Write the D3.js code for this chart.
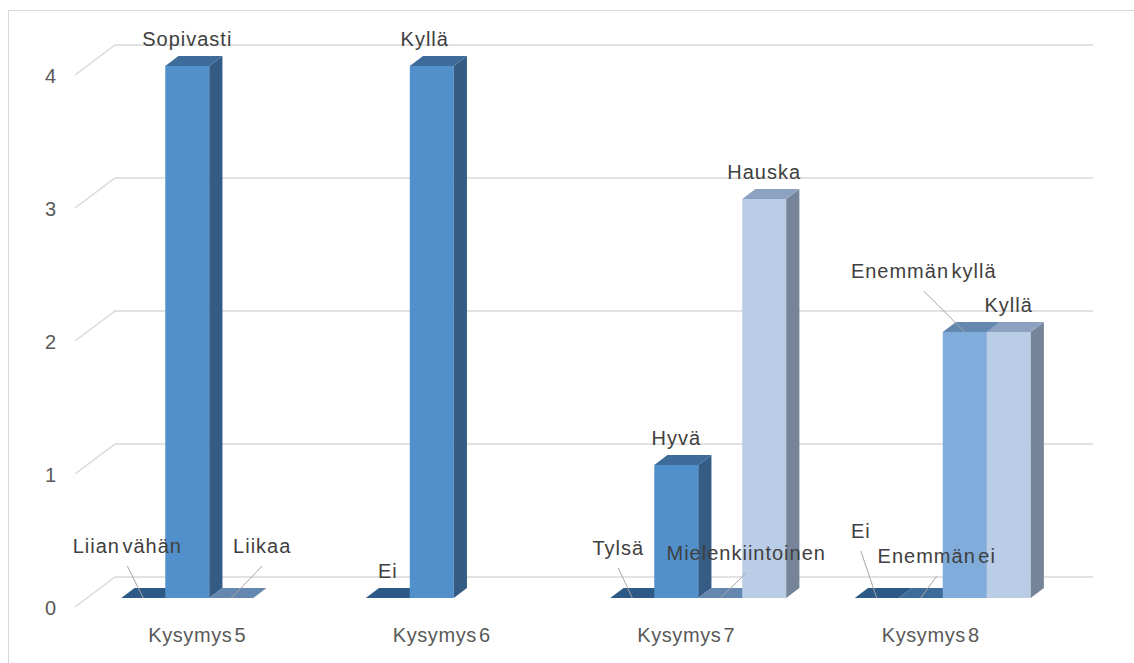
<!DOCTYPE html>
<html>
<head>
<meta charset="utf-8">
<script src="https://cdn.jsdelivr.net/npm/d3@7"></script>
<style>
  body { margin: 0; background: #fff; }
  text { font-family: "Liberation Sans", Arial, sans-serif; }
</style>
</head>
<body>
<div id="chart"></div>
<script>
// data
var categories = ["Kysymys 5", "Kysymys 6", "Kysymys 7", "Kysymys 8"];
var seriesValues = [
  [0, 0, 0, 0],
  [4, 4, 1, 0],
  [0, null, 0, 2],
  [null, null, 3, 2]
];
var seriesLabels = [
  ["Liian vähän", "Ei", "Tylsä", "Ei"],
  ["Sopivasti", "Kyllä", "Hyvä", "Enemmän ei"],
  ["Liikaa", null, "Mielenkiintoinen", "Enemmän kyllä"],
  [null, null, "Hauska", "Kyllä"]
];
var yTicks = [0, 1, 2, 3, 4];

// colours per series: front, side, top
var frontCol = ["#3b6a9b", "#5190cb", "#80acdc", "#b9cde7"];
var sideCol = ["#2a4d72", "#355c85", "#56779c", "#76849a"];
var topCol = ["#2d5986", "#3d6c9b", "#6487b0", "#8ca2c0"];

// manual label placement relative to bar top: [dx, dy, leader line]
var labelNudge = {
  "0-0": [-16, -45, true],
  "2-0": [31, -45, true],
  "1-1": [-7, -20, false],
  "0-2": [-14, -43, true],
  "2-2": [26, -38, true],
  "0-3": [-16, -60, true],
  "1-3": [16, -35, true],
  "2-3": [-41, -54, true]
};

var width = 1134, height = 663;
var depth = { dx: 40, dy: -30 };   // floor depth (oblique)
var barDepth = [0.3, 0.63];        // bars sit in this slice of the depth

var svg = d3.select("#chart").append("svg")
  .attr("width", width)
  .attr("height", height);

// outer chart frame
svg.append("rect")
  .attr("x", 8.5).attr("y", 10.5)
  .attr("width", 1200).attr("height", 700)
  .attr("fill", "#fff")
  .attr("stroke", "#d9d9d9");

var x0 = d3.scaleBand().domain(categories).range([75, 1053]);
var x1 = d3.scaleBand().domain(d3.range(4)).range([0, x0.bandwidth()])
  .paddingInner(0).paddingOuter(0.78);
var y = d3.scaleLinear().domain([0, 4]).range([607, 75]);

// gridlines: left wall diagonals + back wall
var grid = svg.append("g").attr("stroke", "#d9d9d9").attr("stroke-width", 1.5).attr("fill", "none");
yTicks.forEach(function (t) {
  grid.append("path").attr("d",
    "M75," + y(t) + "L" + (75 + depth.dx) + "," + (y(t) + depth.dy) + "H1093");
});

// y tick labels
svg.append("g").selectAll("text").data(yTicks).join("text")
  .attr("x", 56).attr("y", function (d) { return y(d) + 8; })
  .attr("text-anchor", "end")
  .attr("font-size", 20).attr("fill", "#595959")
  .text(function (d) { return d; });

// category labels
svg.append("g").selectAll("text").data(categories).join("text")
  .attr("x", function (d) { return x0(d) + x0.bandwidth() / 2; })
  .attr("y", y(0) + 35)
  .attr("text-anchor", "middle")
  .attr("font-size", 20).attr("fill", "#595959")
  .style("letter-spacing", "0.6px").style("word-spacing", "-4px")
  .text(function (d) { return d; });

// bars
var fx = depth.dx * barDepth[0], fy = depth.dy * barDepth[0];
var bdx = depth.dx * (barDepth[1] - barDepth[0]), bdy = depth.dy * (barDepth[1] - barDepth[0]);
var bars = [];
categories.forEach(function (c, ci) {
  seriesValues.forEach(function (vals, si) {
    if (vals[ci] == null) return;
    bars.push({ c: c, ci: ci, si: si, v: vals[ci], label: seriesLabels[si][ci] });
  });
});

var barG = svg.append("g");
bars.forEach(function (b) {
  var L = x0(b.c) + x1(b.si) + fx, R = L + x1.bandwidth();
  var top = y(b.v) + fy, bot = y(0) + fy;
  b.cx = L + x1.bandwidth() / 2;
  b.top = top;
  if (bot - top > 0) {
    barG.append("rect").attr("x", L).attr("y", top)
      .attr("width", R - L).attr("height", bot - top)
      .attr("fill", frontCol[b.si]);
    barG.append("polygon").attr("points", [
      [R, top], [R + bdx, top + bdy], [R + bdx, bot + bdy], [R, bot]].join(" "))
      .attr("fill", sideCol[b.si]);
  }
  barG.append("polygon").attr("points", [
    [L, top], [L + bdx, top + bdy], [R + bdx, top + bdy], [R, top]].join(" "))
    .attr("fill", topCol[b.si]);
});

// data labels with leader lines
var lab = svg.append("g");
bars.forEach(function (b) {
  var n = labelNudge[b.si + "-" + b.ci] || [0, -20, false];
  var lx = b.cx + n[0], ly = b.top + n[1];
  if (n[2]) {
    lab.append("line")
      .attr("x1", lx).attr("y1", ly + 13)
      .attr("x2", b.cx).attr("y2", b.top)
      .attr("stroke", "#a6a6a6").attr("stroke-width", 1);
  }
  lab.append("text")
    .attr("x", lx).attr("y", ly)
    .attr("text-anchor", "middle")
    .attr("font-size", 20).attr("fill", "#404040")
    .style("letter-spacing", "1px").style("word-spacing", "-4px")
    .text(b.label);
});
</script>
</body>
</html>
